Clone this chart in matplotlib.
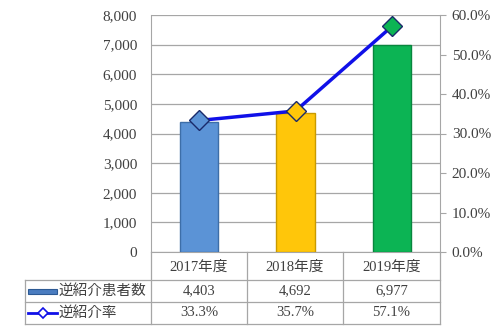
import matplotlib.pyplot as plt
from matplotlib.lines import Line2D
from matplotlib.patches import Rectangle
from matplotlib.ticker import FuncFormatter

plt.rcParams['font.family'] = ['Liberation Serif', 'Noto Sans CJK JP']

years = ['2017年度', '2018年度', '2019年度']
patients = [4403, 4692, 6977]
rates = [33.3, 35.7, 57.1]
bar_name = '逆紹介患者数'
line_name = '逆紹介率'

bar_colors = ['#5b93d6', '#ffc60a', '#0cb454']
bar_edges = ['#3d6ea8', '#c99a00', '#08863e']
text_col = '#404040'
grid_col = '#a6a6a6'

fig = plt.figure(figsize=(5, 3.31), dpi=100)
W, H = 500, 331
L, R, T, B = 151, 440, 15, 252
ax = fig.add_axes([L / W, 1 - B / H, (R - L) / W, (B - T) / H])

x = range(len(years))
ax.bar(x, patients, width=0.4, color=bar_colors, edgecolor=bar_edges, linewidth=1, zorder=3)
ax.set_xlim(-0.5, 2.5)
ax.set_ylim(0, 8000)
ax.set_yticks(range(0, 8001, 1000))
ax.yaxis.set_major_formatter(FuncFormatter(lambda v, p: f'{int(v):,}'))
ax.grid(axis='y', color=grid_col, linewidth=0.9, zorder=0)
ax.set_xticks([])
ax.tick_params(axis='y', length=0, pad=10, labelsize=11, labelcolor=text_col)
for s in ['top', 'right']:
    ax.spines[s].set_visible(False)
ax.spines['left'].set_color(grid_col)
ax.spines['bottom'].set_color(grid_col)

ax2 = ax.twinx()
ax2.set_ylim(0, 60)
ax2.set_yticks(range(0, 61, 10))
ax2.yaxis.set_major_formatter(FuncFormatter(lambda v, p: f'{v:.1f}%'))
ax2.tick_params(axis='y', length=4, color=grid_col, pad=4.5, labelsize=11, labelcolor=text_col)
for s in ['top', 'left', 'bottom']:
    ax2.spines[s].set_visible(False)
ax2.spines['right'].set_color(grid_col)
ax2.plot(x, rates, color='#1010e8', linewidth=2.5, zorder=4)
for i in x:
    ax2.plot(i, rates[i], marker='D', markersize=10.5, markerfacecolor=bar_colors[i],
             markeredgecolor='#1a2a6a', markeredgewidth=1, zorder=5)

# data table below the plot
cols = [25, 151, 247, 343, 440]
rows = [252, 280, 302, 324]


def fx(px):
    return px / W


def fy(py):
    return 1 - py / H


def hline(py, x0, x1):
    fig.add_artist(Line2D([fx(x0), fx(x1)], [fy(py), fy(py)], color=grid_col, linewidth=0.9))


def vline(px, y0, y1):
    fig.add_artist(Line2D([fx(px), fx(px)], [fy(y0), fy(y1)], color=grid_col, linewidth=0.9))


hline(rows[1], cols[0], cols[-1])
hline(rows[2], cols[0], cols[-1])
hline(rows[3], cols[0], cols[-1])
vline(cols[0], rows[1], rows[3])
for c in cols[1:]:
    vline(c, rows[0], rows[3])

for i, yr in enumerate(years):
    cx = (cols[i + 1] + cols[i + 2]) / 2
    fig.text(fx(cx), fy((rows[0] + rows[1]) / 2 + 1), yr, ha='center', va='center',
             fontsize=10.5, color=text_col)
    fig.text(fx(cx), fy((rows[1] + rows[2]) / 2), f'{patients[i]:,}', ha='center', va='center',
             fontsize=10.5, color=text_col)
    fig.text(fx(cx), fy((rows[2] + rows[3]) / 2), f'{rates[i]:.1f}%', ha='center', va='center',
             fontsize=10.5, color=text_col)

# legend keys
ym1 = (rows[1] + rows[2]) / 2
fig.add_artist(Rectangle((fx(28), fy(ym1 + 2.5)), fx(29), 5 / H, color='#4a7cc0', ec='#2d5a94', lw=0.8))
fig.text(fx(59), fy(ym1), bar_name, ha='left', va='center', fontsize=10.5, color=text_col)
ym2 = (rows[2] + rows[3]) / 2
fig.add_artist(Line2D([fx(28), fx(57)], [fy(ym2), fy(ym2)], color='#1010e8', linewidth=2))
fig.add_artist(Line2D([fx(42.5)], [fy(ym2)], marker='D', markersize=5, markerfacecolor='white',
                      markeredgecolor='#1010e8', markeredgewidth=1.2))
fig.text(fx(59), fy(ym2), line_name, ha='left', va='center', fontsize=10.5, color=text_col)

fig.savefig('out.png', dpi=100)
